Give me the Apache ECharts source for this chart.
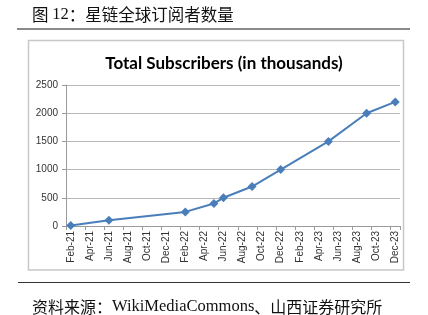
<!DOCTYPE html>
<html>
<head>
<meta charset="utf-8">
<script src="https://cdn.jsdelivr.net/npm/echarts@6/dist/echarts.min.js"></script>
<style>html,body{margin:0;padding:0;background:#fff;}#c{width:428px;height:315px;}</style>
</head>
<body>
<div id="c"></div>
<script>
// Category axis: every month from Feb-21 to Dec-23
var months = ['Feb-21','Mar-21','Apr-21','May-21','Jun-21','Jul-21','Aug-21','Sep-21','Oct-21','Nov-21','Dec-21','Jan-22',
  'Feb-22','Mar-22','Apr-22','May-22','Jun-22','Jul-22','Aug-22','Sep-22','Oct-22','Nov-22','Dec-22','Jan-23',
  'Feb-23','Mar-23','Apr-23','May-23','Jun-23','Jul-23','Aug-23','Sep-23','Oct-23','Nov-23','Dec-23'];
// Observation dates and subscriber counts (thousands)
var pointDates = ['Feb-21','Jun-21','Feb-22','May-22','Jun-22','Sep-22','Dec-22','May-23','Sep-23','Dec-23'];
var pointValues = [10, 100, 250, 400, 500, 700, 1000, 1500, 2000, 2200];
var yTicks = [0, 500, 1000, 1500, 2000, 2500];

var chart = echarts.init(document.getElementById('c'));
var seriesData = pointDates.map(function (d, i) { return [d, pointValues[i]]; });

chart.setOption({
  animation: false,
  backgroundColor: '#fff',
  title: [
    {
      left: 27, top: 1,
      text: '{a|图 }{b|12}{a|：星链全球订阅者数量}',
      textStyle: { fontWeight: 'normal', rich: {
        a: { fontFamily: 'Noto Sans CJK SC', fontWeight: 'normal', fontSize: 16.5, color: '#111' },
        b: { fontFamily: 'Liberation Serif', fontWeight: 'normal', fontSize: 16.5, color: '#111' }
      } }
    },
    {
      top: 50, text: 'Total Subscribers (in thousands)',
      textStyle: { fontFamily: 'Lato', fontWeight: 'bold', fontSize: 17, color: '#000' },
      left: 219, textAlign: 'center'
    },
    {
      left: 27, top: 293,
      text: '{a|资料来源：}{b|WikiMediaCommons}{a|、山西证券研究所}',
      textStyle: { fontWeight: 'normal', rich: {
        a: { fontFamily: 'Noto Sans CJK SC', fontWeight: 'normal', fontSize: 16, color: '#111' },
        b: { fontFamily: 'Liberation Serif', fontWeight: 'normal', fontSize: 16.5, color: '#111' }
      } }
    }
  ],
  graphic: [
    { type: 'line', shape: { x1: 17, y1: 29, x2: 410, y2: 29 }, style: { stroke: '#8a8a8a', lineWidth: 2 } },
    { type: 'rect', shape: { x: 28.5, y: 40.5, width: 375, height: 229.5 }, style: { fill: 'none', stroke: '#c8c8c8', lineWidth: 1.5 } },
    { type: 'line', shape: { x1: 18, y1: 282.5, x2: 410, y2: 282.5 }, style: { stroke: '#333', lineWidth: 1 } }
  ],
  grid: { left: 66, right: 28, top: 85, bottom: 89, containLabel: false },
  xAxis: {
    type: 'category',
    data: months,
    boundaryGap: true,
    axisLine: { lineStyle: { color: '#9a9a9a', width: 1 } },
    axisTick: { show: true, interval: 1, length: 4, lineStyle: { color: '#9a9a9a' } },
    axisLabel: { interval: 1, rotate: 90, margin: 5, fontFamily: 'Liberation Sans', fontSize: 10, color: '#333' },
    splitLine: { show: false }
  },
  yAxis: {
    type: 'value',
    min: yTicks[0], max: yTicks[yTicks.length - 1], interval: 500,
    axisLine: { show: true, lineStyle: { color: '#9a9a9a', width: 1 } },
    axisTick: { show: true, length: 4, lineStyle: { color: '#9a9a9a' } },
    axisLabel: { margin: 8, fontFamily: 'Liberation Sans', fontSize: 10, color: '#333',
      formatter: function (v) { return String(v); } },
    splitLine: { show: true, lineStyle: { color: '#b8b8b8', width: 1 } }
  },
  series: [{
    type: 'line',
    data: seriesData,
    connectNulls: true,
    showSymbol: true,
    showAllSymbol: true,
    symbol: 'diamond',
    symbolSize: 9,
    lineStyle: { color: '#4a7ebb', width: 2 },
    itemStyle: { color: '#4a7ebb' }
  }]
});
</script>
</body>
</html>
